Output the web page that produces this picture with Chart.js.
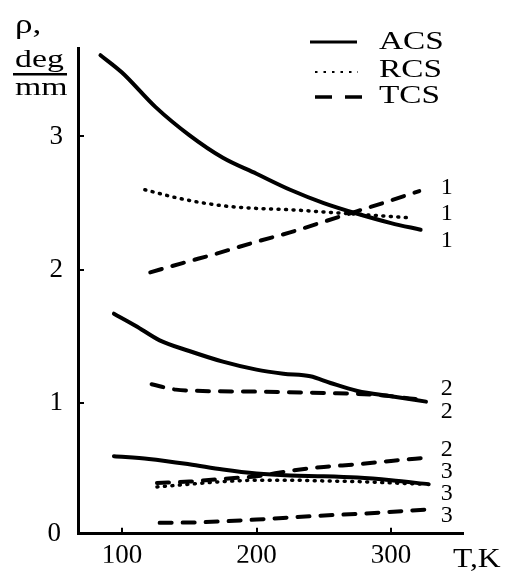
<!DOCTYPE html>
<html>
<head>
<meta charset="utf-8">
<script src="https://cdn.jsdelivr.net/npm/chart.js@4.4.0/dist/chart.umd.min.js"></script>
<style>
  html, body { margin: 0; padding: 0; background: #fff; }
</style>
</head>
<body>
<canvas id="graph" width="509" height="571"></canvas>
<script>
// Temperatures (K) and rotation ρ (deg/mm) for each curve
const acs1T = [84, 100, 125, 150, 175, 200, 225, 250, 275, 300, 322];
const acs1 = [3.61, 3.48, 3.22, 3.01, 2.84, 2.72, 2.60, 2.50, 2.42, 2.35, 2.30];
const rcs1T = [117, 145, 175, 200, 225, 255, 285, 313];
const rcs1 = [2.60, 2.53, 2.48, 2.46, 2.45, 2.43, 2.41, 2.39];
const tcs1T = [121, 145, 170, 200, 225, 250, 275, 300, 321];
const tcs1 = [1.98, 2.05, 2.12, 2.21, 2.28, 2.36, 2.44, 2.52, 2.59];

const acs2T = [94, 110, 128, 150, 175, 200, 220, 240, 255, 275, 300, 326];
const acs2 = [1.67, 1.58, 1.47, 1.39, 1.31, 1.25, 1.22, 1.20, 1.15, 1.09, 1.05, 1.01];
const tcs2T = [122, 140, 160, 200, 250, 290, 326];
const tcs2 = [1.14, 1.10, 1.09, 1.085, 1.075, 1.06, 1.02];
const rcs2T = [126, 150, 175, 200, 225, 250, 275, 300, 327];
const rcs2 = [0.40, 0.41, 0.43, 0.45, 0.49, 0.52, 0.54, 0.565, 0.59];

const acs3T = [94, 120, 150, 175, 200, 225, 250, 275, 300, 328];
const acs3 = [0.60, 0.58, 0.54, 0.50, 0.47, 0.455, 0.45, 0.44, 0.42, 0.39];
const rcs3T = [126, 150, 175, 200, 225, 250, 275, 300, 326];
const rcs3 = [0.37, 0.39, 0.41, 0.42, 0.42, 0.415, 0.41, 0.40, 0.39];
const tcs3T = [128, 160, 200, 240, 280, 326];
const tcs3 = [0.10, 0.105, 0.125, 0.15, 0.17, 0.20];

const xTicks = [100, 200, 300];
const yTicks = [0, 1, 2, 3];

// curve numbers written at the right end, stacked top to bottom
const curveNums = ['1', '1', '1', '2', '2', '2', '3', '3', '3'];
const curveNumRho = [2.63, 2.43, 2.23, 1.12, 0.95, 0.66, 0.50, 0.33, 0.17];
const curveNumT = 337;

const legendNames = ['ACS', 'RCS', 'TCS'];

const serif = '"Liberation Serif", "Times New Roman", serif';

function pts(ts, vs) {
    return ts.map(function(t, i) { return { x: t, y: vs[i] }; });
}

const styles = {
    ACS: { borderWidth: 4, borderDash: [], borderCapStyle: 'round' },
    RCS: { borderWidth: 3.5, borderDash: [1, 6.5], borderCapStyle: 'round' },
    TCS: { borderWidth: 4, borderDash: [12, 11], borderCapStyle: 'round' }
};

function curve(kind, ts, vs) {
    return Object.assign({
        label: kind,
        data: pts(ts, vs),
        borderColor: '#000',
        borderJoinStyle: 'round',
        pointRadius: 0,
        fill: false,
        cubicInterpolationMode: 'monotone'
    }, styles[kind]);
}

// draws text stretched horizontally (the lettering is wide)
function wideText(ctx, text, x, y, size, sx, align) {
    ctx.save();
    ctx.font = size + 'px ' + serif;
    ctx.textAlign = align || 'left';
    ctx.textBaseline = 'alphabetic';
    ctx.translate(x, y);
    ctx.scale(sx, 1);
    ctx.fillText(text, 0, 0);
    ctx.restore();
}

const extras = {
    id: 'extras',
    afterDraw(chart) {
        const ctx = chart.ctx;
        const xs = chart.scales.x;
        const ys = chart.scales.y;
        ctx.save();
        ctx.fillStyle = '#000';
        ctx.strokeStyle = '#000';

        // axis titles
        wideText(ctx, 'ρ,', 15, 33, 27, 1.3);
        wideText(ctx, 'deg', 15, 67, 26, 1.3);
        ctx.fillRect(13, 73, 54, 2.5);
        wideText(ctx, 'mm', 15, 95, 26, 1.3);
        wideText(ctx, 'T,K', 453, 567, 27, 1.17);
        wideText(ctx, '0', 61, 541, 27, 1, 'right');

        // legend
        const lx = 379;
        const rows = [49, 77, 103];
        ctx.lineCap = 'butt';
        ctx.lineWidth = 3;
        ctx.setLineDash([]);
        ctx.beginPath(); ctx.moveTo(310, 42); ctx.lineTo(357, 42); ctx.stroke();
        ctx.lineWidth = 2;
        ctx.setLineDash([2.5, 6]);
        ctx.beginPath(); ctx.moveTo(315, 72); ctx.lineTo(358, 72); ctx.stroke();
        ctx.lineWidth = 3.5;
        ctx.setLineDash([17, 13]);
        ctx.beginPath(); ctx.moveTo(315, 97); ctx.lineTo(362, 97); ctx.stroke();
        ctx.setLineDash([]);
        legendNames.forEach(function(name, i) {
            wideText(ctx, name, lx, rows[i], 26, 1.28);
        });

        // curve numbers
        const nx = xs.getPixelForValue(curveNumT);
        curveNums.forEach(function(n, i) {
            wideText(ctx, n, nx, ys.getPixelForValue(curveNumRho[i]) + 8, 24, 1);
        });
        ctx.restore();
    }
};

new Chart(document.getElementById('graph'), {
    type: 'line',
    data: {
        datasets: [
            curve('ACS', acs1T, acs1),
            curve('RCS', rcs1T, rcs1),
            curve('TCS', tcs1T, tcs1),
            curve('ACS', acs2T, acs2),
            curve('TCS', tcs2T, tcs2),
            curve('TCS', rcs2T, rcs2),
            curve('ACS', acs3T, acs3),
            curve('RCS', rcs3T, rcs3),
            curve('TCS', tcs3T, tcs3)
        ]
    },
    options: {
        responsive: false,
        animation: false,
        layout: { padding: { top: 48, right: 46, left: 0, bottom: 0 } },
        plugins: {
            legend: { display: false },
            tooltip: { enabled: false }
        },
        scales: {
            x: {
                type: 'linear',
                min: 67.3,
                max: 353.5,
                afterFit: function(scale) { scale.height = 29; },
                afterBuildTicks: function(scale) {
                    scale.ticks = xTicks.map(function(v) { return { value: v }; });
                },
                border: { color: '#000', width: 3 },
                grid: { drawOnChartArea: false, color: '#000', lineWidth: 2, tickLength: -6 },
                ticks: {
                    color: '#000',
                    padding: 12,
                    maxRotation: 0,
                    font: { family: serif, size: 27 }
                }
            },
            y: {
                min: 0.018,
                max: 3.664,
                afterFit: function(scale) { scale.width = 78; },
                afterBuildTicks: function(scale) {
                    scale.ticks = yTicks.map(function(v) { return { value: v }; });
                },
                border: { color: '#000', width: 3 },
                grid: {
                    drawOnChartArea: false,
                    lineWidth: 2,
                    tickLength: -6,
                    color: function(c) { return c.tick && c.tick.value === 0 ? 'rgba(0,0,0,0)' : '#000'; }
                },
                ticks: {
                    color: '#000',
                    padding: 21,
                    font: { family: serif, size: 27 },
                    callback: function(v) { return v === 0 ? '' : String(v); }
                }
            }
        }
    },
    plugins: [extras]
});
</script>
</body>
</html>
